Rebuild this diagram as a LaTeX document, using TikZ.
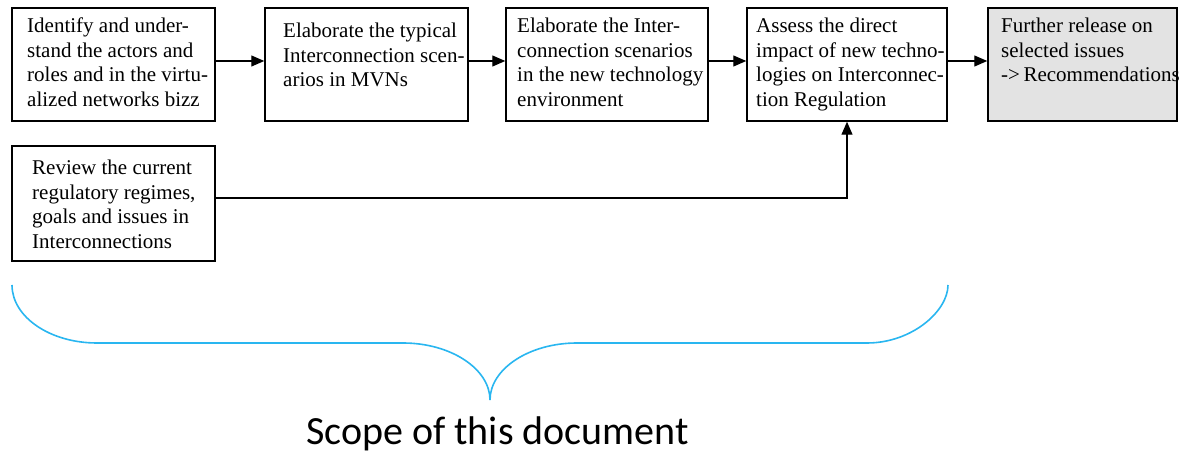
\documentclass[tikz,border=0pt]{standalone}
\usepackage{fontspec}
\setmainfont{Liberation Serif}
\newfontfamily\scopefont{Carlito}
\usetikzlibrary{arrows.meta}
\definecolor{bracecol}{HTML}{29B6F0}
\definecolor{shadefill}{HTML}{E3E3E3}
% top-aligned paragraph so that the node baseline is the first line
\newcommand{\steplines}[1]{\parbox[t]{200pt}{\raggedright\fontsize{21}{24.5}\selectfont #1}}
\tikzset{
  stepbox/.style={draw=black, line width=1.5pt, rectangle, inner sep=0pt, fill=white},
  steptext/.style={anchor=base west, inner sep=0pt},
  flow/.style={draw=black, line width=1.3pt, -{Triangle[length=13pt,width=11pt]}},
  scopebrace/.style={draw=bracecol, line width=1.6pt},
}
\begin{document}
\begin{tikzpicture}[x=1pt, y=-1pt]
  \useasboundingbox (0,0) rectangle (1187,454);

  % process boxes
  \node[stepbox, minimum width=203pt, minimum height=113pt] (b1) at (113.5,64.5) {};
  \node[stepbox, minimum width=203pt, minimum height=113pt] (b2) at (366.5,64.5) {};
  \node[stepbox, minimum width=202pt, minimum height=113pt] (b3) at (607,64.5) {};
  \node[stepbox, minimum width=200pt, minimum height=113pt] (b4) at (847,64.5) {};
  \node[stepbox, fill=shadefill, minimum width=189pt, minimum height=113pt] (b5) at (1082.5,64.5) {};
  \node[stepbox, minimum width=203pt, minimum height=115pt] (b6) at (113.5,203.5) {};

  % box texts
  \node[steptext] (t1) at (27,33) {\steplines{Identify and under-\\stand the actors and\\roles and in the virtu-\\alized networks bizz}};
  \node[steptext] (t2) at (283,38) {\steplines{Elaborate the typical\\Interconnection scen-\\arios in MVNs}};
  \node[steptext] (t3) at (517,33) {\steplines{Elaborate the Inter-\\connection scenarios\\in the new technology\\environment}};
  \node[steptext] (t4) at (756,33) {\steplines{Assess the direct\\impact of new techno-\\logies on Interconnec-\\tion Regulation}};
  \node[steptext] (t5) at (1001,33) {\steplines{Further release on\\selected issues\\-{}>\,Recommendations}};
  \node[steptext] (t6) at (32,175) {\steplines{Review the current\\regulatory regimes,\\goals and issues in\\Interconnections}};

  % flow arrows
  \draw[flow] ([yshift=3.5pt]b1.east) -- ([yshift=3.5pt]b2.west);
  \draw[flow] ([yshift=3.5pt]b2.east) -- ([yshift=3.5pt]b3.west);
  \draw[flow] ([yshift=3.5pt]b3.east) -- ([yshift=3.5pt]b4.west);
  \draw[flow] ([yshift=3.5pt]b4.east) -- ([yshift=3.5pt]b5.west);
  \draw[flow] ([yshift=5.5pt]b6.east) -| (b4.south);

  % brace marking the scope
  \draw[scopebrace] (12,285) .. controls (12,317) and (50,343) .. (97,343)
    -- (403,343) .. controls (451,343) and (490,369) .. (490,400)
    .. controls (490,369) and (529,343) .. (577,343)
    -- (867,343) .. controls (912,343) and (948,311) .. (948,285);

  \node[anchor=base, inner sep=0pt, font=\scopefont\fontsize{40}{48}\selectfont] (scope) at (497.5,445) {Scope of this document};
\end{tikzpicture}
\end{document}
